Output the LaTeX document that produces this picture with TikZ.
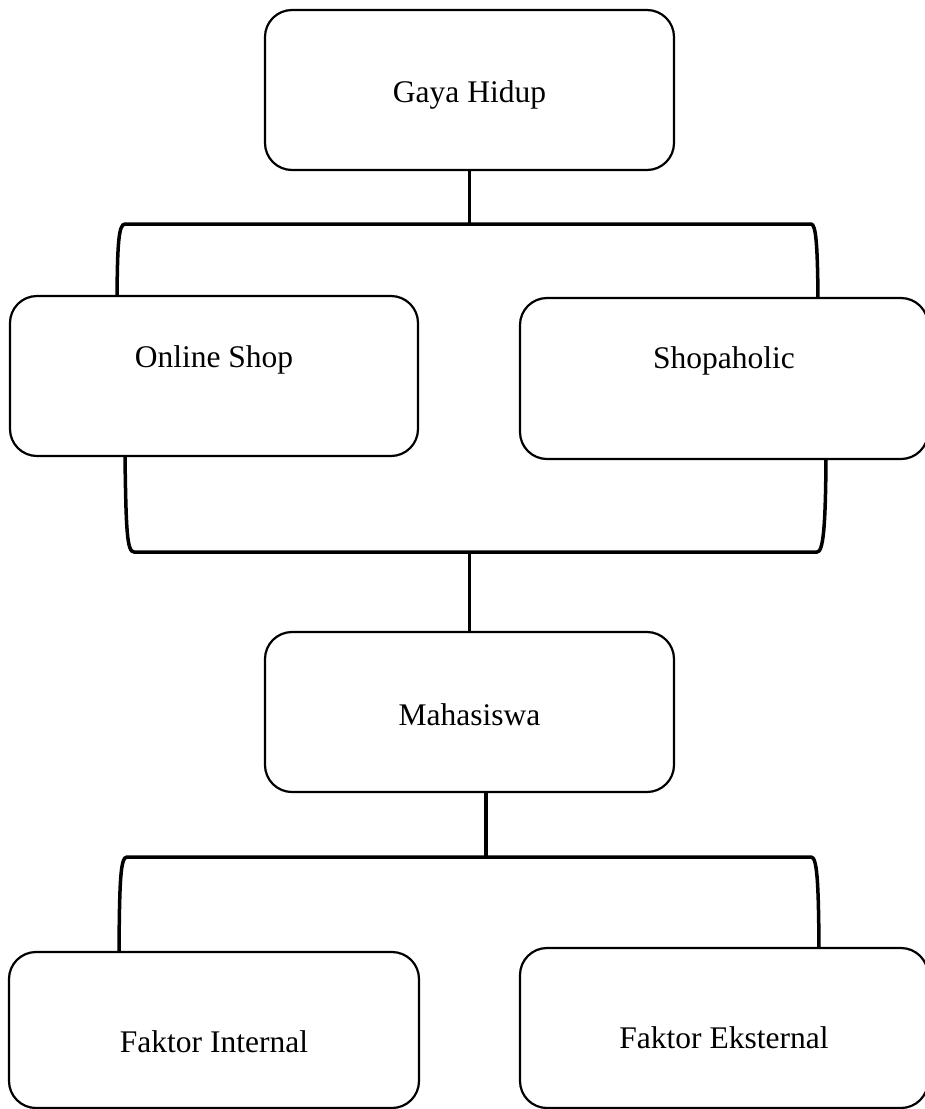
\documentclass[tikz,border=0pt]{standalone}
\usepackage{fontspec}
\setmainfont{Liberation Serif}
\usetikzlibrary{calc}
\begin{document}
\begin{tikzpicture}[x=1pt,y=-1pt,
  box/.style={draw, line width=2.2pt, rounded corners=27pt, inner sep=0pt,
    font=\fontsize{31.5}{38}\selectfont},
  conn/.style={draw, line width=3.5pt, line cap=butt}]
\useasboundingbox (0,0) rectangle (925,1109);
% boxes
\node[box, minimum width=409pt, minimum height=160pt, text height=24pt, text depth=0pt] (gh) at (469.5,90) {Gaya Hidup};
\node[box, minimum width=408pt, minimum height=160pt, text height=0pt, text depth=18pt] (os) at (214,376) {Online Shop};
\node[box, minimum width=408pt, minimum height=161pt, text height=0pt, text depth=20pt] (sh) at (724,378.5) {Shopaholic};
\node[box, minimum width=409pt, minimum height=160pt, text height=26pt, text depth=0pt] (mh) at (469.5,712) {Mahasiswa};
\node[box, minimum width=410pt, minimum height=156pt, text height=44pt, text depth=0pt] (fi) at (214,1030) {Faktor Internal};
\node[box, minimum width=408pt, minimum height=160pt, text height=40pt, text depth=0pt] (fe) at (724,1028) {Faktor Eksternal};
% coordinates
\coordinate (b1m) at (469.5,224);
\coordinate (b1l) at (117,296);
\coordinate (b1r) at (818,298);
\coordinate (b2m) at (469.5,552);
\coordinate (b2l) at (125,457);
\coordinate (b2r) at (826,459);
\coordinate (m3top) at (486,792);
\coordinate (b3m) at (486,857);
\coordinate (b3l) at (119,952);
\coordinate (b3r) at (819,948);
% connectors
\draw[conn] (gh.south) -- (b1m);
\draw[conn] (b1l) .. controls (117.5,245) and (118.5,224) .. (125,224) -- (811,224) .. controls (816,224) and (817.5,245) .. (b1r);
\draw[conn] (b2l) .. controls (126,530) and (127,552) .. (134,552) -- (817,552) .. controls (823,552) and (825.5,530) .. (b2r);
\draw[conn] (b2m) -- (mh.north);
\draw[conn] (m3top) -- (b3m);
\draw[conn] (b3l) .. controls (119.5,880) and (120.5,857) .. (127,857) -- (811,857) .. controls (817,857) and (818.5,880) .. (b3r);
\end{tikzpicture}
\end{document}
